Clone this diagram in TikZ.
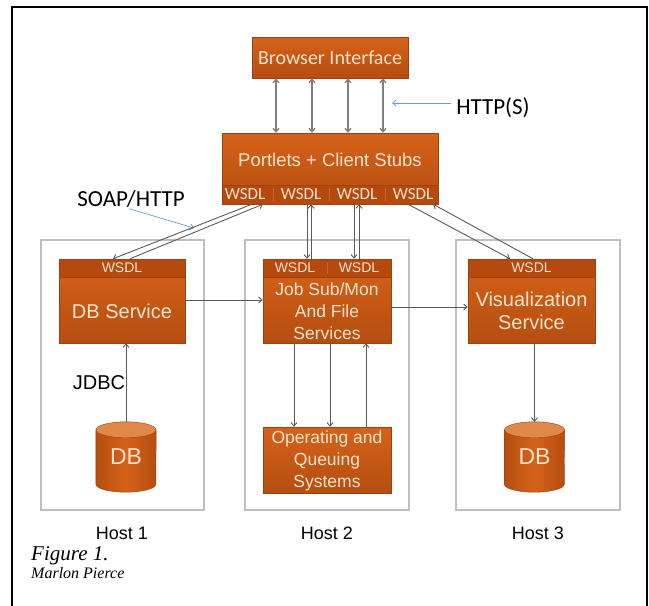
\documentclass[tikz,border=0pt]{standalone}
\usepackage{fontspec}
\setmainfont{Liberation Sans}
\newfontfamily\calfont{Carlito}
\newfontfamily\serfont{Liberation Serif}
\usetikzlibrary{arrows.meta,calc,backgrounds}
\definecolor{otop}{HTML}{D6621A}
\definecolor{obot}{HTML}{B44E10}
\definecolor{oedge}{HTML}{9C4210}
\definecolor{oband}{HTML}{B5490E}
\definecolor{otext}{HTML}{FAE3CF}
\definecolor{hostc}{HTML}{BFBFBF}
\definecolor{arrc}{HTML}{7F7F7F}
\definecolor{arrd}{HTML}{5A5A5A}
\definecolor{bluec}{HTML}{6A9BC9}
\definecolor{cyltop}{HTML}{E0874A}
\begin{document}
\begin{tikzpicture}[x=1pt,y=-1pt,
  obox/.style={draw=oedge, line width=0.5pt, top color=otop, bottom color=obot, inner sep=0pt},
  band/.style={draw=oedge, line width=0.5pt, fill=oband, inner sep=0pt, text=otext},
  btext/.style={text=otext, inner sep=0pt, align=center},
  host/.style={draw=hostc, line width=1.2pt, inner sep=0pt},
  tip/.style={-{Straight Barb[length=3.5pt,width=6pt]}},
  conn/.style={draw=arrd, line width=0.9pt, tip},
  dconn/.style={draw=arrc, line width=1.3pt, {Straight Barb[length=3.5pt,width=6pt]}-{Straight Barb[length=3.5pt,width=6pt]}},
  bconn/.style={draw=bluec, line width=0.8pt, tip},
  divline/.style={draw=otop!75!gray, line width=1pt},
  cylnode/.style={minimum width=60pt, minimum height=70pt, inner sep=0pt, text=otext, font=\fontsize{23}{23}\selectfont},
  hostlbl/.style={font=\fontsize{18}{18}\selectfont, inner sep=0pt},
  lbl/.style={inner sep=0pt}
]
\useasboundingbox (0,0) rectangle (649,606);
% outer frame
\draw[line width=1.8pt] (12,606) -- (12,7) -- (647,7) -- (647,606);

% hosts
\node[host, minimum width=163pt, minimum height=270pt] (h1) at (122.5,375) {};
\node[host, minimum width=164pt, minimum height=270pt] (h2) at (327,375) {};
\node[host, minimum width=164pt, minimum height=270pt] (h3) at (538,375) {};
\node[hostlbl] (h1l) at (122,533) {Host 1};
\node[hostlbl] (h2l) at (327,533) {Host 2};
\node[hostlbl] (h3l) at (538,533) {Host 3};

% browser
\node[obox, minimum width=156pt, minimum height=41pt, text=otext, font=\calfont\fontsize{20}{20}\selectfont] (browser) at (330,57.5) {Browser Interface};

% portlets
\node[obox, minimum width=216pt, minimum height=71pt] (portlets) at (330,168.5) {};
\node[btext, font=\fontsize{18.5}{18.5}\selectfont] (ptext) at (330,160) {Portlets + Client Stubs};
\node[band, minimum width=216pt, minimum height=19pt] (pband) at (330,194.5) {};
\foreach \i/\x in {1/245,2/301,3/357,4/413}
  \node[btext, minimum height=19pt, font=\calfont\fontsize{17}{17}\selectfont] (pw\i) at (\x,194.5) {WSDL};
\draw[divline] ($(pw1.south)!0.5!(pw2.south)+(0,-3)$) -- ($(pw1.north)!0.5!(pw2.north)+(0,3)$);
\draw[divline] ($(pw2.south)!0.5!(pw3.south)+(0,-3)$) -- ($(pw2.north)!0.5!(pw3.north)+(0,3)$);
\draw[divline] ($(pw3.south)!0.5!(pw4.south)+(0,-3)$) -- ($(pw3.north)!0.5!(pw4.north)+(0,3)$);

% browser <-> portlets
\foreach \dx in {-54,-18,18,53}
  \draw[dconn] ($(browser.south)+(\dx,0)$) -- ($(browser.south |- portlets.north)+(\dx,0)$);

% HTTP(S)
\node[lbl, font=\calfont\fontsize{23}{23}\selectfont] (http) at (493,108) {HTTP(S)};
\coordinate (httptip) at (392,103);
\draw[bconn] ($(http.west)+(-5,-5)$) -- (httptip);

% SOAP/HTTP
\node[lbl, font=\calfont\fontsize{23}{23}\selectfont] (soap) at (131,199) {SOAP/HTTP};
\coordinate (soaptip) at (194,228);
\draw[bconn, line width=0.7pt] ($(soap.south)+(-2,1)$) -- (soaptip);

% DB service
\node[obox, minimum width=126pt, minimum height=84pt] (dbs) at (122,301) {};
\node[band, minimum width=126pt, minimum height=18pt, font=\fontsize{14}{14}\selectfont] (dbw) at (122,268) {WSDL};
\node[btext, font=\fontsize{20}{20}\selectfont] (dbst) at (122,311) {DB Service};

% Job service
\node[obox, minimum width=128pt, minimum height=84pt] (job) at (327,301) {};
\node[band, minimum width=64pt, minimum height=18pt, font=\fontsize{14}{14}\selectfont] (jw1) at (295,268) {WSDL};
\node[band, minimum width=64pt, minimum height=18pt, font=\fontsize{14}{14}\selectfont] (jw2) at (359,268) {WSDL};
\draw[divline] ($(jw1.north east)+(0,3)$) -- ($(jw1.south east)+(0,-3)$);
\node[btext, font=\fontsize{17.5}{22}\selectfont] (jobt) at (327,311) {Job Sub/Mon\\And File\\Services};

% Visualization
\node[obox, minimum width=127pt, minimum height=84pt] (vis) at (531.5,301) {};
\node[band, minimum width=127pt, minimum height=18pt, font=\fontsize{14}{14}\selectfont] (visw) at (531.5,268) {WSDL};
\node[btext, font=\fontsize{20}{23}\selectfont] (vist) at (531.5,310.5) {Visualization\\Service};

% Operating
\node[obox, minimum width=128pt, minimum height=66pt] (os) at (327,460) {};
\node[btext, font=\fontsize{17.5}{22}\selectfont] (ost) at (327,461) {Operating and\\Queuing\\Systems};

% databases
\node[cylnode] (db1) at (126,457) {DB};
\node[cylnode] (db3) at (534.5,457) {DB};
\begin{scope}[on background layer]
\foreach \d in {db1,db3}{
  \shade[left color=obot, right color=obot, middle color=otop, draw=oedge, line width=0.4pt]
    ($(\d.north west)+(0,8)$) -- ($(\d.south west)+(0,-8)$)
    arc[start angle=180, end angle=360, x radius=30pt, y radius=8pt]
    -- ($(\d.north east)+(0,8)$) -- cycle;
  \fill[cyltop, draw=oedge, line width=0.4pt] ($(\d.north)+(0,8)$) ellipse[x radius=30pt, y radius=8pt];
}
\end{scope}
\node[lbl, font=\fontsize{20}{20}\selectfont] (jdbc) at (99,383) {JDBC};

% portlets <-> services
\draw[conn] ($(pw1.south)+(7,0)$) -- ($(dbw.north)+(-9,0)$);
\draw[conn] ($(dbw.north)+(8,0)$) -- ($(pw1.south)+(18,0)$);
\draw[conn] ($(pw2.south)+(6,0)$) -- ($(pw2.south |- jw1.north)+(6,0)$);
\draw[conn] ($(pw2.south |- jw1.north)+(10,0)$) -- ($(pw2.south)+(10,0)$);
\draw[conn] ($(pw3.south)+(-3,0)$) -- ($(pw3.south |- jw2.north)+(-3,0)$);
\draw[conn] ($(pw3.south |- jw2.north)+(2,0)$) -- ($(pw3.south)+(2,0)$);
\draw[conn] ($(pw4.south)+(-5,0)$) -- ($(visw.north)+(-21.5,0)$);
\draw[conn] ($(visw.north)+(1.5,0)$) -- ($(pw4.south)+(20,0)$);

% service links
\draw[conn] ($(dbs.east)+(0,-1)$) -- ($(dbs.east -| job.west)+(0,-1)$);
\draw[conn] ($(job.east)+(0,6)$) -- ($(job.east -| vis.west)+(0,6)$);
\draw[conn] (db1.north) -- (db1.north |- dbs.south);
\draw[conn] (db3.north |- vis.south) -- (db3.north);
\draw[conn] ($(job.south)+(-33,0)$) -- ($(job.south |- os.north)+(-33,0)$);
\draw[conn] ($(job.south)+(3,0)$) -- ($(job.south |- os.north)+(3,0)$);
\draw[conn] ($(job.south |- os.north)+(39,0)$) -- ($(job.south)+(39,0)$);

% caption
\node[anchor=base west, inner sep=0pt, font=\serfont\itshape\fontsize{21}{21}\selectfont] (fig) at (31,560) {Figure 1.};
\node[anchor=base west, inner sep=0pt, font=\serfont\itshape\fontsize{16}{16}\selectfont] (auth) at (31,578) {Marlon Pierce};
\end{tikzpicture}
\end{document}
